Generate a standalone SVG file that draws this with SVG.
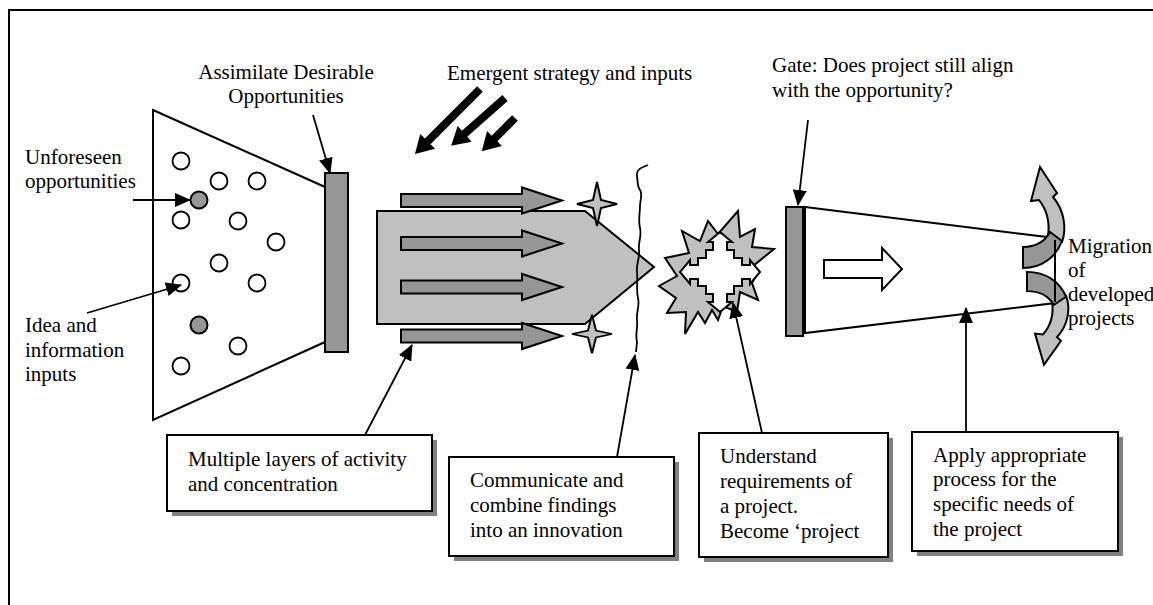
<svg xmlns="http://www.w3.org/2000/svg" width="1153" height="605" viewBox="0 0 1153 605">
  <style>
    text { font-family: "Liberation Serif", "Times New Roman", serif; font-size: 21px; fill: #000; }
    .ln { stroke: #000; stroke-width: 1.8; fill: none; }
    .edge { stroke: #000; stroke-width: 2; }
    .dot { fill: #fff; stroke: #000; stroke-width: 1.8; }
    .dot.dk { fill: #969696; }
    .lt { fill: #c0c0c0; stroke: #000; stroke-width: 2; stroke-linejoin: miter; }
    .dk { fill: #969696; stroke: #000; stroke-width: 2; }
    .box { fill: #fff; stroke: #000; stroke-width: 2; }
    .shadow { fill: #808080; }
    .conn { stroke: #000; stroke-width: 1.8; fill: none; marker-end: url(#head); }
  </style>
  <defs>
    <marker id="head" markerUnits="userSpaceOnUse" markerWidth="16" markerHeight="14" refX="15" refY="7" orient="auto">
      <path d="M0,0 L16,7 L0,14 Z" fill="#000"/>
    </marker>
    <!-- grey block arrow, centred on y = 0 -->
    <polygon id="flow" points="401,-6.5 522,-6.5 522,-13 562,0 522,13 522,6.5 401,6.5"/>
    <!-- four-pointed sparkle -->
    <polygon id="spark" points="0,-22 4,-4 20,0 4,4 0,22 -4,4 -20,0 -4,-4"/>
    <!-- twisted ribbon arrow (upward) -->
    <g id="ribbon">
      <path class="lt" d="M1062,242 C1067,228 1064,210 1053,197 L1057,193 L1040,167 L1031,201 L1039,200 C1047,210 1050,222 1048,236 Z"/>
      <path class="dk" d="M1023,247 C1036,247 1045,241 1050,232 L1062,241 C1056,257 1042,268 1023,268 Z"/>
    </g>
  </defs>

  <rect width="1153" height="605" fill="#fff"/>
  <!-- outer frame -->
  <rect x="9" y="10" width="1170" height="620" fill="none" stroke="#000" stroke-width="2"/>

  <!-- idea funnel -->
  <g id="funnel">
    <polygon points="153,110 325,187 325,342 153,420" fill="#fff" class="edge"/>
    <circle class="dot" cx="181" cy="161" r="8.5"/>
    <circle class="dot" cx="219" cy="181" r="8.5"/>
    <circle class="dot" cx="257" cy="181" r="8.5"/>
    <circle class="dot dk" cx="199" cy="200" r="8.5"/>
    <circle class="dot" cx="181" cy="220" r="8.5"/>
    <circle class="dot" cx="238" cy="221" r="8.5"/>
    <circle class="dot" cx="276" cy="242" r="8.5"/>
    <circle class="dot" cx="219" cy="263" r="8.5"/>
    <circle class="dot" cx="181" cy="283" r="8.5"/>
    <circle class="dot" cx="257" cy="283" r="8.5"/>
    <circle class="dot dk" cx="199" cy="325" r="8.5"/>
    <circle class="dot" cx="238" cy="346" r="8.5"/>
    <circle class="dot" cx="181" cy="366" r="8.5"/>
  </g>

  <g id="assimilate-gate">
    <rect x="325" y="173" width="23" height="179" class="dk"/>
  </g>

  <!-- activity body with layered flows -->
  <g id="activity">
    <polygon class="lt" points="377,211 585,211 654,267 585,324 377,324"/>
    <use href="#flow" class="dk" transform="translate(0,200.5)"/>
    <use href="#flow" class="dk" transform="translate(0,243.5)"/>
    <use href="#flow" class="dk" transform="translate(0,287)"/>
    <use href="#flow" class="dk" transform="translate(0,336)"/>
    <use href="#spark" class="lt" transform="translate(597,204)"/>
    <use href="#spark" class="lt" transform="translate(592,334) scale(1,0.88)"/>
  </g>

  <!-- boundary where findings combine -->
  <g id="boundary">
    <path class="ln" d="M648,165 C640,168 636,170 637,176 C638,182 637,186 640,190 C643,194 640,200 640,206 C640,214 638,220 640,228 C642,236 638,242 639,250 C640,258 636,264 637,272 C638,282 636,290 638,298 C640,306 636,312 637,320 C638,328 635,334 637,342 L636,352"/>
  </g>

  <!-- project burst -->
  <g id="burst">
    <polygon class="lt" points="738,211 740,237 755,229 752,247 774,249 753,266 757,274 752,283 758,300 740,292 737,312 723,306 718,320 712,310 705,323 698,312 685,334 686,312 667,313 676,298 659,286 677,276 665,258 689,253 682,231 700,241 708,221 718,234"/>
    <polygon fill="#fff" stroke="#000" stroke-width="2" transform="translate(720,272)" points="0,-40 12,-30 7,-30 7,-22 14,-22 14,-14 22,-14 22,-7 30,-7 30,-12 40,0 30,12 30,7 22,7 22,14 14,14 14,22 7,22 7,30 12,30 0,40 -12,30 -7,30 -7,22 -14,22 -14,14 -22,14 -22,7 -30,7 -30,12 -40,0 -30,-12 -30,-7 -22,-7 -22,-14 -14,-14 -14,-22 -7,-22 -7,-30 -12,-30"/>
  </g>

  <!-- project development channel -->
  <g id="channel">
    <polygon points="805,207 1055,238 1055,303 805,333" fill="#fff" class="edge"/>
    <rect x="786" y="207" width="17" height="129" class="dk"/>
    <polygon points="824,260 882,260 882,248 902,269 882,290 882,278 824,278" fill="#fff" stroke="#000" stroke-width="2"/>
  </g>

  <g id="migration">
    <use href="#ribbon"/>
    <use href="#ribbon" transform="translate(4,518.4) scale(1,-0.92)"/>
    <line x1="1055" y1="240" x2="1055" y2="302" stroke="#000" stroke-width="2"/>
  </g>

  <!-- emergent inputs -->
  <g id="emergent" fill="#000">
    <polygon transform="translate(480,89) rotate(135)" points="0,-4 74,-4 74,-10.5 92,0 74,10.5 74,4 0,4"/>
    <polygon transform="translate(505,98) rotate(138.4)" points="0,-4 54,-4 54,-10.5 72,0 54,10.5 54,4 0,4"/>
    <polygon transform="translate(515,118) rotate(135)" points="0,-4 29,-4 29,-10.5 47,0 29,10.5 29,4 0,4"/>
  </g>

  <!-- callout boxes -->
  <g id="box-layers">
    <rect class="shadow" x="172" y="440" width="265" height="76"/>
    <rect class="box" x="167" y="435" width="265" height="76"/>
    <text x="188" y="466">Multiple layers of activity</text>
    <text x="188" y="491">and concentration</text>
  </g>
  <g id="box-combine">
    <rect class="shadow" x="454" y="462" width="225" height="99"/>
    <rect class="box" x="449" y="457" width="225" height="99"/>
    <text x="470" y="487">Communicate and</text>
    <text x="470" y="512">combine findings</text>
    <text x="470" y="537">into an innovation</text>
  </g>
  <g id="box-requirements">
    <rect class="shadow" x="704" y="438" width="189" height="124"/>
    <rect class="box" x="699" y="433" width="189" height="124"/>
    <text x="720" y="463">Understand</text>
    <text x="720" y="488">requirements of</text>
    <text x="720" y="513">a project.</text>
    <text x="720" y="538">Become ‘project</text>
  </g>
  <g id="box-process">
    <rect class="shadow" x="917" y="437" width="206" height="119"/>
    <rect class="box" x="912" y="432" width="206" height="119"/>
    <text x="933" y="462">Apply appropriate</text>
    <text x="933" y="486">process for the</text>
    <text x="933" y="511">specific needs of</text>
    <text x="933" y="536">the project</text>
  </g>

  <!-- free labels -->
  <g id="labels">
    <text x="286" y="79" text-anchor="middle">Assimilate Desirable</text>
    <text x="286" y="103" text-anchor="middle">Opportunities</text>
    <text x="447" y="80">Emergent strategy and inputs</text>
    <text x="772" y="72">Gate: Does project still align</text>
    <text x="772" y="97">with the opportunity?</text>
    <text x="25" y="164">Unforeseen</text>
    <text x="25" y="188">opportunities</text>
    <text x="25" y="332">Idea and</text>
    <text x="25" y="357">information</text>
    <text x="25" y="381">inputs</text>
    <text x="1068" y="253">Migration</text>
    <text x="1068" y="277">of</text>
    <text x="1068" y="301">developed</text>
    <text x="1068" y="325">projects</text>
  </g>

  <!-- connectors -->
  <g id="connectors">
    <line class="conn" x1="133" y1="200" x2="190" y2="200"/>
    <line class="conn" x1="87" y1="313" x2="181" y2="285"/>
    <line class="conn" x1="313" y1="115" x2="330" y2="173"/>
    <line class="conn" x1="808" y1="120" x2="798" y2="205"/>
    <line class="conn" x1="365" y1="435" x2="412" y2="345"/>
    <line class="conn" x1="617" y1="457" x2="635" y2="355"/>
    <line class="conn" x1="762" y1="433" x2="733" y2="303"/>
    <line class="conn" x1="966" y1="432" x2="966" y2="308"/>
  </g>
</svg>
